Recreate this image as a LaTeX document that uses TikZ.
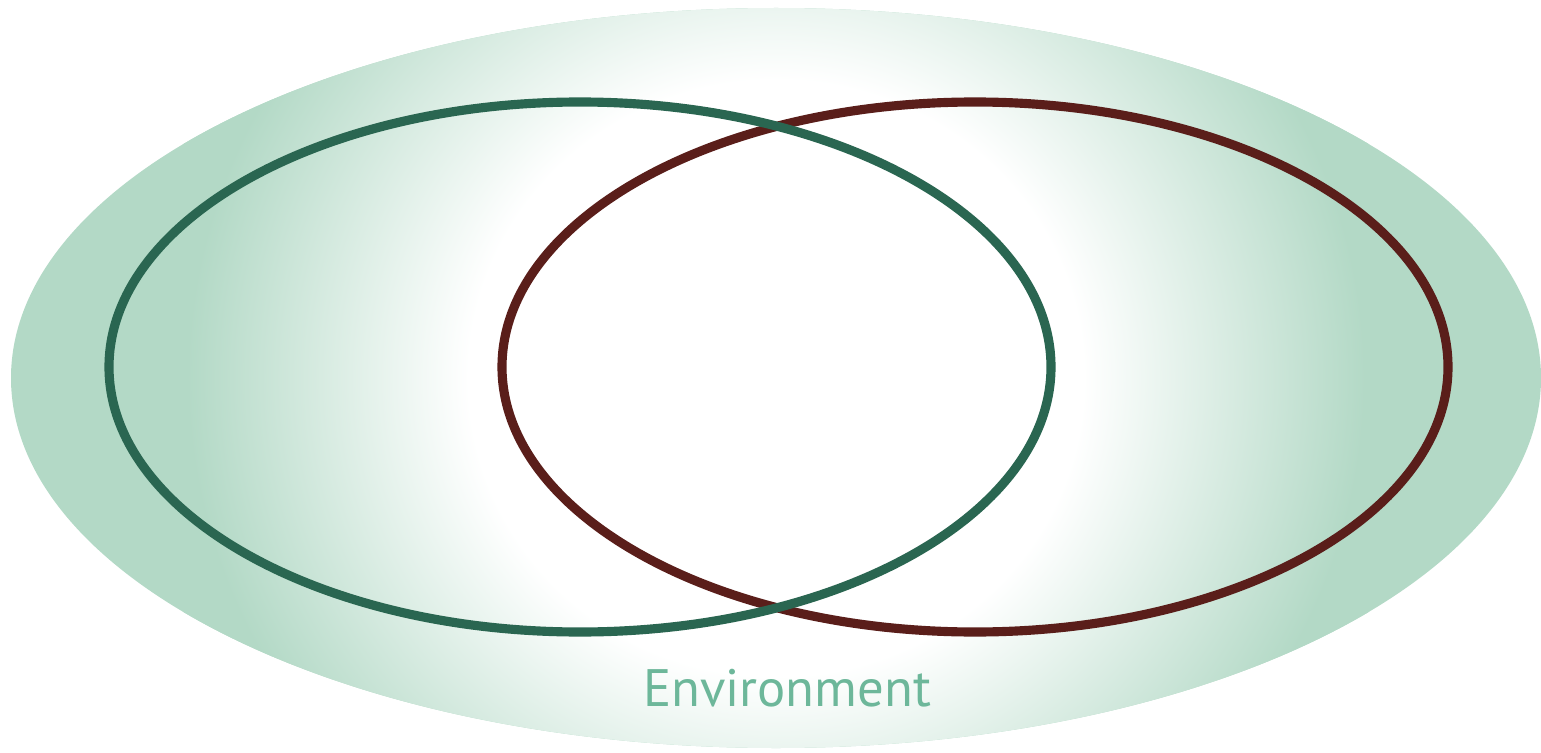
\documentclass[tikz,border=0pt]{standalone}
\usepackage{fontspec}
\setsansfont{PT Sans}
\usetikzlibrary{positioning}
\definecolor{EnvGreen}{HTML}{B3D9C6}
\definecolor{RingGreen}{HTML}{2A6651}
\definecolor{RingBrown}{HTML}{5A1E1A}
\definecolor{LabelGreen}{HTML}{6DB79A}
\pgfdeclareradialshading{envglow}{\pgfpoint{0bp}{0bp}}{color(0bp)=(white); color(12bp)=(white); color(23bp)=(EnvGreen); color(50bp)=(EnvGreen)}

\begin{document}
\begin{tikzpicture}[x=0.02cm,y=-0.02cm,
  ring/.style={line width=5.2pt},
  envtext/.style={text=LabelGreen,font=\sffamily\fontsize{30}{34}\selectfont}
]
\useasboundingbox (0,0) rectangle (1541,753);
% environment backdrop
\fill[EnvGreen] (776,378) ellipse [x radius=765,y radius=370];
\begin{scope}
  \clip (776,378) ellipse [x radius=765,y radius=370];
  \shade[shading=envglow] (776,378) ellipse [x radius=640,y radius=620];
\end{scope}
% the two rings
\draw[ring,RingBrown] (975,367) ellipse [x radius=473,y radius=265];
\draw[ring,RingGreen] (580,367) ellipse [x radius=471,y radius=265];
\node[envtext] (env) at (787,688) {Environment};
\end{tikzpicture}
\end{document}
